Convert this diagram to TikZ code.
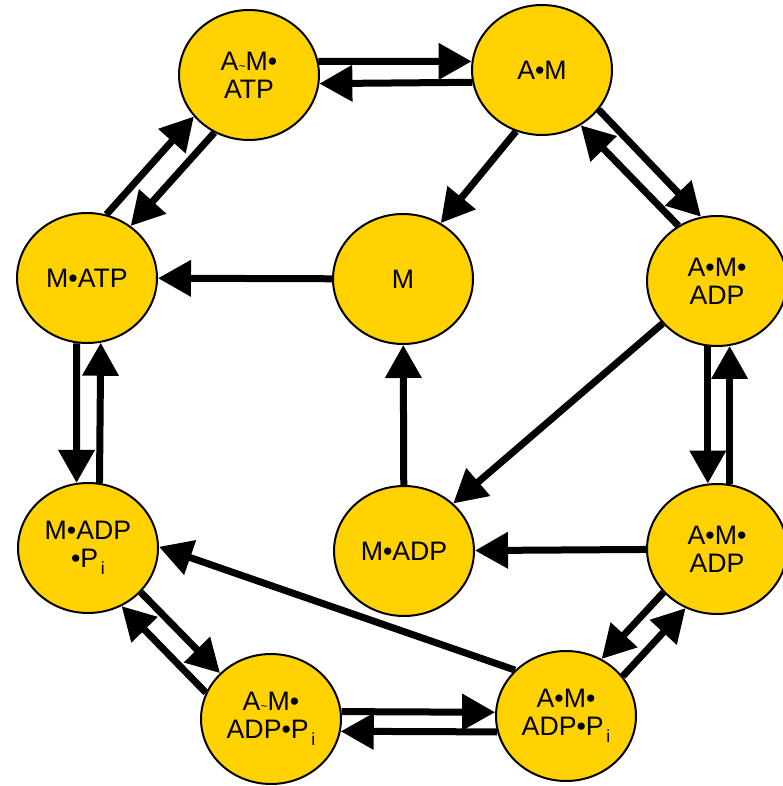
\documentclass[tikz,border=0pt]{standalone}
\usepackage{fontspec}
\setmainfont{Liberation Sans}
\usetikzlibrary{arrows.meta,shapes.geometric}
\definecolor{xbgold}{RGB}{255,210,0}
\newcommand{\wk}{{\scriptsize\textasciitilde}}
\newcommand{\pI}{P\kern0.1em\raisebox{-0.5ex}{\fontsize{10}{10}\selectfont i}}

\begin{document}
\begin{tikzpicture}[x=0.02cm,y=-0.02cm,
    state/.style={ellipse,draw=black,line width=0.04cm,fill=xbgold,
        minimum width=2.8cm,minimum height=2.6cm,inner sep=0pt,align=center,
        font=\fontsize{15.2}{16}\selectfont},
    flow/.style={line width=0.14cm,-{Triangle[length=0.66cm,width=0.7cm]}}]
\useasboundingbox (0,0) rectangle (782,786);

% States of the cycle
\node[state] (amatp) at (249,75) {A\wk M\textbullet\\ATP};
\node[state] (am) at (542,70) {A\textbullet M};
\node[state] (matp) at (87,278) {M\textbullet ATP};
\node[state] (m) at (403,279) {M};
\node[state] (amadpA) at (717,281) {A\textbullet M\textbullet\\ADP};
\node[state] (madppi) at (88,548) {M\textbullet ADP\\\textbullet\pI};
\node[state] (madp) at (404,551) {M\textbullet ADP};
\node[state] (amadpB) at (717,549) {A\textbullet M\textbullet\\ADP};
\node[state] (amadppiA) at (271,719) {A\wk M\textbullet\\ADP\textbullet\pI};
\node[state] (amadppiB) at (566,716) {A\textbullet M\textbullet\\ADP\textbullet\pI};

% Reversible steps (pairs)
\draw[flow] (amatp.11) -- (am.173);
\draw[flow] (am.-170) -- (amatp.-7);
\draw[flow] (am.-35) -- (amadpA.104);
\draw[flow] (amadpA.125) -- (am.-55);
\draw[flow] (amadpA.-98) -- (amadpB.98);
\draw[flow] (amadpB.79) -- (amadpA.-79);
\draw[flow] (amadpB.-141) -- (amadppiB.58);
\draw[flow] (amadppiB.35) -- (amadpB.-118);
\draw[flow] (amadppiA.6) -- (amadppiB.177);
\draw[flow] (amadppiB.-167) -- (amadppiA.-10);
\draw[flow] (madppi.-40) -- (amadppiA.138);
\draw[flow] (amadppiA.158) -- (madppi.-60);
\draw[flow] (matp.-99) -- (madppi.100);
\draw[flow] (madppi.80) -- (matp.-78);
\draw[flow] (matp.73) -- (amatp.-143);
\draw[flow] (amatp.-121) -- (matp.50);

% One-way steps
\draw[flow] (am.-113) -- (m.56);
\draw[flow] (m) -- (matp);
\draw[flow] (amadpA.-142) -- (madp.44);
\draw[flow] (amadpB) -- (madp);
\draw[flow] (madp) -- (m);
\draw[flow] (amadppiB.138) -- (madppi.1);
\end{tikzpicture}
\end{document}
